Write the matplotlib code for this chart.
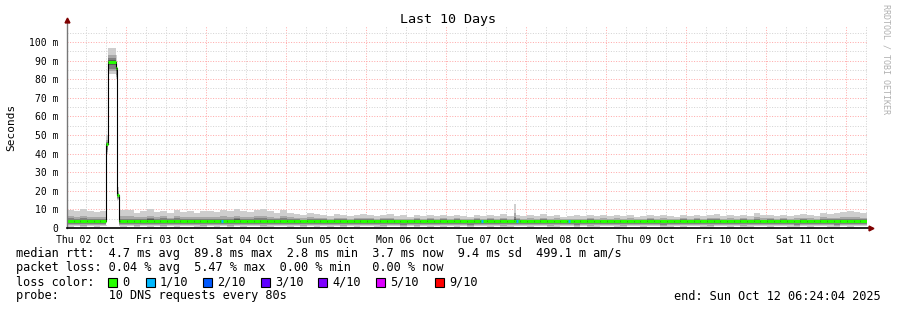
import numpy as np
import matplotlib.pyplot as plt
from datetime import datetime, timedelta

mono = 'DejaVu Sans Mono'
W, H = 897, 310

start = datetime(2025, 10, 2, 6, 24, 4)   # graph start, 10 days back from end
span_h = 240
bin_h = 2                                   # baseline arrays are 2 hour bins

# smoke top (ms) per 2h bin
smoke_hi = [9.5, 9.0, 10.0, 9.0, 8.5, 9.0, 9.0, 9.0, 9.5,
            9.5, 8.0, 9.0, 10.0, 8.5, 9.0, 8.0, 9.5, 8.5, 9.0, 8.0, 9.0,
            9.0, 8.5, 9.5, 9.0, 10.0, 9.0, 8.5, 9.5, 10.0, 9.0, 8.0, 9.5,
            8.0, 7.5, 7.0, 8.0, 7.5, 7.0, 6.5, 7.5, 7.0, 6.5, 7.0, 7.5,
            7.0, 6.5, 7.0, 7.5, 6.5, 7.0, 6.0, 7.0, 6.5, 7.0, 6.5, 7.0,
            6.5, 7.0, 6.5, 6.0, 7.0, 6.5, 7.0, 6.5, 7.5, 6.5, 7.0, 6.5,
            7.0, 6.5, 7.5, 6.5, 7.0, 6.0, 6.5, 7.0, 6.5, 7.0, 6.5, 7.0,
            6.5, 7.0, 6.5, 7.0, 6.0, 6.5, 7.0, 6.5, 7.0, 6.5, 6.0, 7.0,
            6.5, 7.0, 6.5, 7.0, 7.5, 6.5, 7.0, 6.5, 7.0, 6.5, 8.0, 7.0,
            7.0, 6.5, 7.0, 6.5, 7.0, 7.5, 7.0, 6.5, 8.0, 7.5, 8.0, 8.5,
            9.0, 8.5, 8.0]
# median rtt (ms) per 2h bin
median = [3.8, 3.7, 3.9, 3.8, 3.6, 3.8, 3.8, 3.8, 3.6,
          3.5, 3.8, 3.6, 4.0, 3.7, 3.9, 3.6, 3.8, 3.7, 3.5, 3.8, 3.7,
          3.8, 3.9, 3.6, 3.8, 4.0, 3.7, 3.5, 3.8, 3.9, 3.6, 3.7, 3.8,
          3.9, 3.8, 3.7, 3.9, 3.6, 3.8, 3.7, 3.9, 3.8, 3.6, 3.8, 3.7,
          3.8, 3.6, 3.9, 3.7, 3.8, 3.5, 3.7, 3.8, 3.6, 3.9, 3.7, 3.8,
          3.7, 3.9, 3.8, 3.6, 3.8, 3.7, 3.9, 3.6, 3.8, 3.7, 3.9, 3.8,
          3.6, 3.8, 3.7, 3.9, 3.6, 3.8, 3.7, 3.5, 3.8, 3.9, 3.7, 3.6,
          3.8, 3.7, 3.9, 3.6, 3.8, 3.7, 3.9, 3.8, 3.6, 3.7, 3.8, 3.9,
          3.7, 3.8, 3.6, 3.9, 3.8, 3.7, 3.6, 3.8, 3.9, 3.7, 3.8, 3.6,
          3.8, 3.7, 3.9, 3.8, 3.6, 3.8, 3.7, 3.9, 3.8, 3.7, 3.6, 3.8,
          3.7, 3.8, 3.7]
# smoke bottom (ms) per 2h bin
smoke_lo = [0.8, 0.9, 0.7, 1.0, 0.8, 0.9, 0.9, 0.9, 0.8,
            0.9, 0.7, 1.0, 0.8, 0.9, 0.7, 1.0, 0.8, 0.9, 1.0, 0.8, 0.7,
            0.9, 0.8, 1.0, 0.7, 0.9, 0.8, 1.0, 0.9, 0.7, 0.8, 1.0, 0.9,
            0.8, 0.9, 0.7, 1.0, 0.8, 0.9, 0.8, 1.0, 0.7, 0.9, 0.8, 1.0,
            0.9, 0.8, 0.7, 1.0, 0.9, 0.8, 0.9, 0.7, 1.0, 0.8, 0.9, 0.8,
            1.0, 0.8, 0.9, 0.7, 0.9, 1.0, 0.8, 0.9, 0.7, 0.8, 1.0, 0.9,
            0.8, 0.9, 1.0, 0.7, 0.8, 0.9, 1.0, 0.8, 0.9, 0.7, 0.8, 1.0,
            0.9, 0.8, 0.7, 1.0, 0.9, 0.8, 0.9, 1.0, 0.7, 0.8, 0.9, 0.8,
            1.0, 0.9, 0.8, 0.7, 0.9, 1.0, 0.8, 0.9, 0.7, 0.8, 1.0, 0.9,
            0.8, 0.9, 1.0, 0.8, 0.7, 0.9, 0.8, 1.0, 0.9, 0.8, 0.7, 0.9,
            0.8, 0.9, 1.0]

# short periods that replace the baseline (hours from start)
ev_t0 = [11.7, 12.3, 14.7, 15.0, 134.2]
ev_t1 = [12.3, 14.7, 15.0, 15.6, 134.8]
ev_lo = [40.0, 83.0, 80.0, 15.0, 1.0]
ev_med = [45.0, 89.5, 86.0, 18.0, 3.8]
ev_hi = [50.0, 97.0, 93.0, 22.0, 13.0]

# single samples with 1/10 loss
loss_t = [46.5, 124.5, 135.0, 150.6]
loss_lvl = [1, 1, 1, 1]

loss_names = ['0', '1/10', '2/10', '3/10', '4/10', '5/10', '9/10']
loss_colors = ['#26ff00', '#00b8ff', '#0059ff', '#5e00ff', '#7e00ff', '#dd00ff', '#ff0000']

# build contiguous segments (t0, t1, lo, med, hi)
cuts = sorted(zip(ev_t0, ev_t1))
segs = []
for i in range(len(median)):
    a, b = i * bin_h, (i + 1) * bin_h
    pos = a
    for t0, t1 in cuts:
        if t0 < b and t1 > a:
            if t0 > pos:
                segs.append((pos, t0, smoke_lo[i], median[i], smoke_hi[i]))
            pos = max(pos, t1)
    if pos < b:
        segs.append((pos, b, smoke_lo[i], median[i], smoke_hi[i]))
for k in range(len(ev_t0)):
    segs.append((ev_t0[k], ev_t1[k], ev_lo[k], ev_med[k], ev_hi[k]))
segs.sort()
segs = np.array(segs)

xs = np.ravel(np.column_stack([segs[:, 0], segs[:, 1]]))
lo_r = np.repeat(segs[:, 2], 2)
med_r = np.repeat(segs[:, 3], 2)
hi_r = np.repeat(segs[:, 4], 2)

fig = plt.figure(figsize=(W / 100, H / 100), dpi=100)
fig.patch.set_facecolor('white')
ax = fig.add_axes([67 / W, (H - 228) / H, 800 / W, 202 / H])
ymax = 202 / 1.86
ax.set_xlim(0, span_h)
ax.set_ylim(0, ymax)
for s in ax.spines.values():
    s.set_visible(False)

# grid
dot = (0, (1, 1.6))
first_noon = (datetime(2025, 10, 2, 12) - start).total_seconds() / 3600
for h in np.arange(first_noon % 6, span_h, 6):
    midnight = abs(((h - first_noon) % 24) - 12) < 0.01
    ax.axvline(h, color='#ffaaaa' if midnight else '#d4d4d4', lw=0.72, ls=dot, zorder=0.5)
for v in range(5, int(ymax) + 1, 5):
    ax.axhline(v, color='#ffaaaa' if v % 10 == 0 else '#d4d4d4', lw=0.72, ls=dot, zorder=0.5)

# smoke, shaded darker towards the median
f_up = [1.0, 0.45, 0.25, 0.1]
f_dn = [1.0, 0.8, 0.6, 0.3]
greys = ['#cecece', '#a8a8a8', '#808080', '#585858']
for fu, fd, c in zip(f_up, f_dn, greys):
    ax.fill_between(xs, med_r - fd * (med_r - lo_r), med_r + fu * (hi_r - med_r),
                    color=c, lw=0, zorder=1)

# median
ax.plot(xs, med_r, color='black', lw=0.8, zorder=2)
ax.hlines(segs[:, 3], segs[:, 0], segs[:, 1], colors=loss_colors[0], lw=2.2, zorder=3)
for t, lv in zip(loss_t, loss_lvl):
    i = int(t // bin_h)
    ax.hlines(median[i], t - 0.3, t + 0.3, colors=loss_colors[lv], lw=2.2, zorder=4)

# axes lines and arrows
ax.plot([0, 0], [0, 1 + 6 / 202], transform=ax.transAxes, color='#777777', lw=1, clip_on=False, zorder=5)
ax.plot([0, 1 + 3 / 800], [0, 0], transform=ax.transAxes, color='black', lw=1.2, clip_on=False, zorder=5)
ax.plot([0], [1 + 6 / 202], marker='^', ms=3.5, color='#7f0000', transform=ax.transAxes, clip_on=False, zorder=6)
ax.plot([1 + 4 / 800], [0], marker='>', ms=3.5, color='#7f0000', transform=ax.transAxes, clip_on=False, zorder=6)

# ticks
noons = first_noon + 24 * np.arange(10)
ax.set_xticks(noons)
ax.set_xticklabels([(start + timedelta(hours=float(h))).strftime('%a %d %b') for h in noons],
                   fontfamily=mono, fontsize=7)
yt = list(range(0, 101, 10))
ax.set_yticks(yt)
ax.set_yticklabels(['0'] + ['%d m' % v for v in yt[1:]], fontfamily=mono, fontsize=7)
ax.tick_params(axis='x', length=0, pad=5)
ax.tick_params(axis='y', length=0, pad=6)

def px(x, y):
    return x / W, 1 - y / H

fig.text(*px(448, 20), 'Last 10 Days', ha='center', va='center', fontfamily=mono, fontsize=9.6)
fig.text(*px(11, 127), 'Seconds', ha='center', va='center', rotation=90, fontfamily=mono, fontsize=8)
fig.text(*px(886, 59), 'RRDTOOL / TOBI OETIKER', ha='center', va='center', rotation=270,
         fontfamily=mono, fontsize=6, color='#b0b0b0')

fs = 8.55
fig.text(*px(16, 254), 'median rtt:  4.7 ms avg  89.8 ms max  2.8 ms min  3.7 ms now  9.4 ms sd  499.1 m am/s',
         va='center', fontfamily=mono, fontsize=fs)
fig.text(*px(16, 268), 'packet loss: 0.04 % avg  5.47 % max  0.00 % min   0.00 % now',
         va='center', fontfamily=mono, fontsize=fs)
fig.text(*px(16, 282), 'loss color:', va='center', fontfamily=mono, fontsize=fs)
box_x = [108, 146, 203, 261, 318, 376, 435]
for bx, name, c in zip(box_x, loss_names, loss_colors):
    fig.patches.append(plt.Rectangle(px(bx, 286.5), 9 / W, 9 / H, transform=fig.transFigure,
                                     facecolor=c, edgecolor='black', lw=0.8))
    fig.text(*px(bx + 14, 282), name, va='center', fontfamily=mono, fontsize=fs)
fig.text(*px(16, 296), 'probe:       10 DNS requests every 80s', va='center', fontfamily=mono, fontsize=fs)
fig.text(*px(881, 296), 'end: Sun Oct 12 06:24:04 2025', ha='right', va='center', fontfamily=mono, fontsize=fs)

fig.savefig('out.png', dpi=100)
